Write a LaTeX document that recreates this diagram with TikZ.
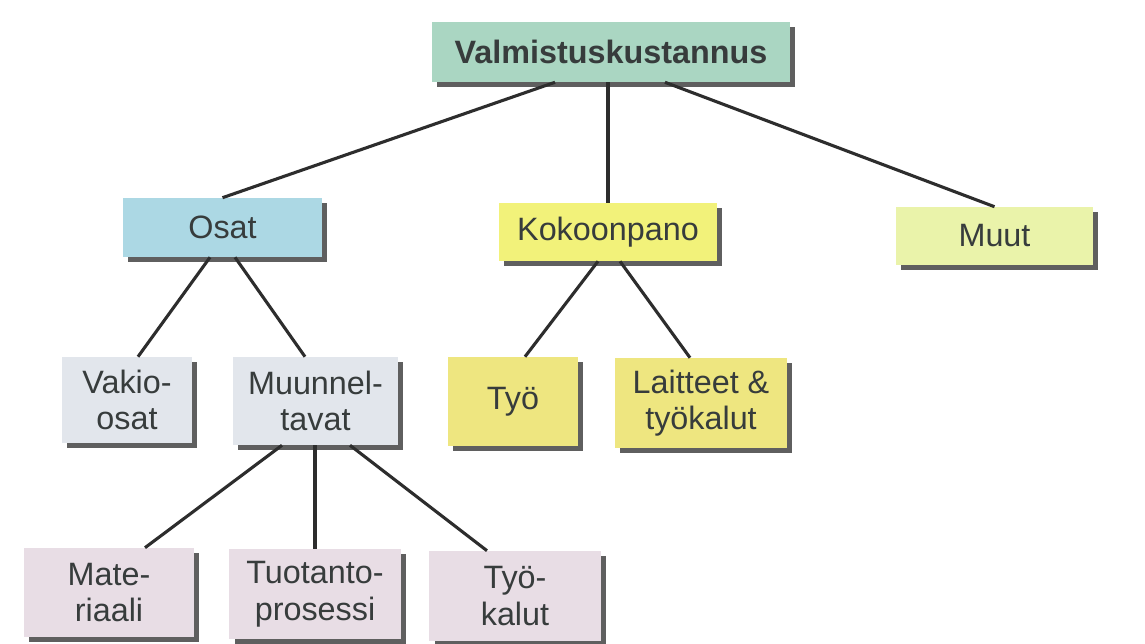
\documentclass[tikz,border=0pt]{standalone}
\usepackage{fontspec}
\setmainfont{Liberation Sans}
\usepackage{xcolor}
\usepackage{tikz}
\usetikzlibrary{calc,shadows}
\definecolor{ink}{RGB}{55,60,60}
\definecolor{wire}{RGB}{45,45,45}
\definecolor{shade}{RGB}{95,95,95}
\definecolor{mint}{RGB}{170,214,194}
\definecolor{skyblue}{RGB}{172,216,228}
\definecolor{lemon}{RGB}{242,242,122}
\definecolor{lime}{RGB}{234,243,170}
\definecolor{sand}{RGB}{238,230,128}
\definecolor{mist}{RGB}{226,230,236}
\definecolor{lilac}{RGB}{232,221,229}
\tikzset{
  costbase/.style={rectangle, align=center, text=ink,
    font=\fontsize{23}{26}\selectfont,
    drop shadow={shadow xshift=1.3mm, shadow yshift=-1.3mm, fill=shade, opacity=1}},
  costbox/.style={costbase, fill=mint},
  partbox/.style={costbase, fill=skyblue},
  assemblybox/.style={costbase, fill=lemon},
  otherbox/.style={costbase, fill=lime},
  workbox/.style={costbase, fill=sand},
  subpartbox/.style={costbase, fill=mist},
  variantbox/.style={costbase, fill=lilac},
  link/.style={draw=wire, line width=2.2pt}
}
\begin{document}
\begin{tikzpicture}[x=0.025cm, y=-0.025cm]
\useasboundingbox[fill=white] (0,0) rectangle (1145,644);

% top level
\node[costbox, minimum width=8.95cm, minimum height=1.5cm] (cost) at (611,52) {\bfseries Valmistuskustannus};

% second level
\node[partbox, minimum width=4.975cm, minimum height=1.475cm] (osat) at (222.5,227.5) {Osat};
\node[assemblybox, minimum width=5.45cm, minimum height=1.45cm] (kokoonpano) at (608,232) {Kokoonpano};
\node[otherbox, minimum width=4.925cm, minimum height=1.45cm] (muut) at (994.5,236) {Muut};

% third level
\node[subpartbox, minimum width=3.25cm, minimum height=2.15cm] (vakio) at (127,400) {Vakio-\\osat};
\node[subpartbox, minimum width=4.125cm, minimum height=2.2cm] (muunnel) at (315.5,401) {Muunnel-\\tavat};
\node[workbox, minimum width=3.25cm, minimum height=2.225cm] (tyo) at (513,401.5) {Työ};
\node[workbox, minimum width=4.3cm, minimum height=2.25cm] (laitteet) at (701,403) {Laitteet \&\\työkalut};

% fourth level
\node[variantbox, minimum width=4.25cm, minimum height=2.225cm] (materiaali) at (109,592.5) {Mate-\\riaali};
\node[variantbox, minimum width=4.275cm, minimum height=2.25cm] (tuotanto) at (315,594) {Tuotanto-\\prosessi};
\node[variantbox, minimum width=4.275cm, minimum height=2.25cm] (tyokalut) at (515,596) {Työ-\\kalut};

\draw[link] ($(cost.south)+(-56,0)$) -- (osat.north);
\draw[link] ($(cost.south)+(-3,0)$) -- (kokoonpano.north);
\draw[link] ($(cost.south)+(54,0)$) -- (muut.north);
\draw[link] ($(osat.south)+(-12.5,0)$) -- ($(vakio.north)+(11,0)$);
\draw[link] ($(osat.south)+(12.5,0)$) -- ($(muunnel.north)+(-10.5,0)$);
\draw[link] ($(kokoonpano.south)+(-10,0)$) -- ($(tyo.north)+(12,0)$);
\draw[link] ($(kokoonpano.south)+(12,0)$) -- ($(laitteet.north)+(-11,0)$);
\draw[link] ($(muunnel.south)+(-33.5,0)$) -- ($(materiaali.north)+(36,0)$);
\draw[link] ($(muunnel.south)+(-0.5,0)$) -- (tuotanto.north);
\draw[link] ($(muunnel.south)+(34.5,0)$) -- ($(tyokalut.north)+(-28,0)$);
\end{tikzpicture}
\end{document}
